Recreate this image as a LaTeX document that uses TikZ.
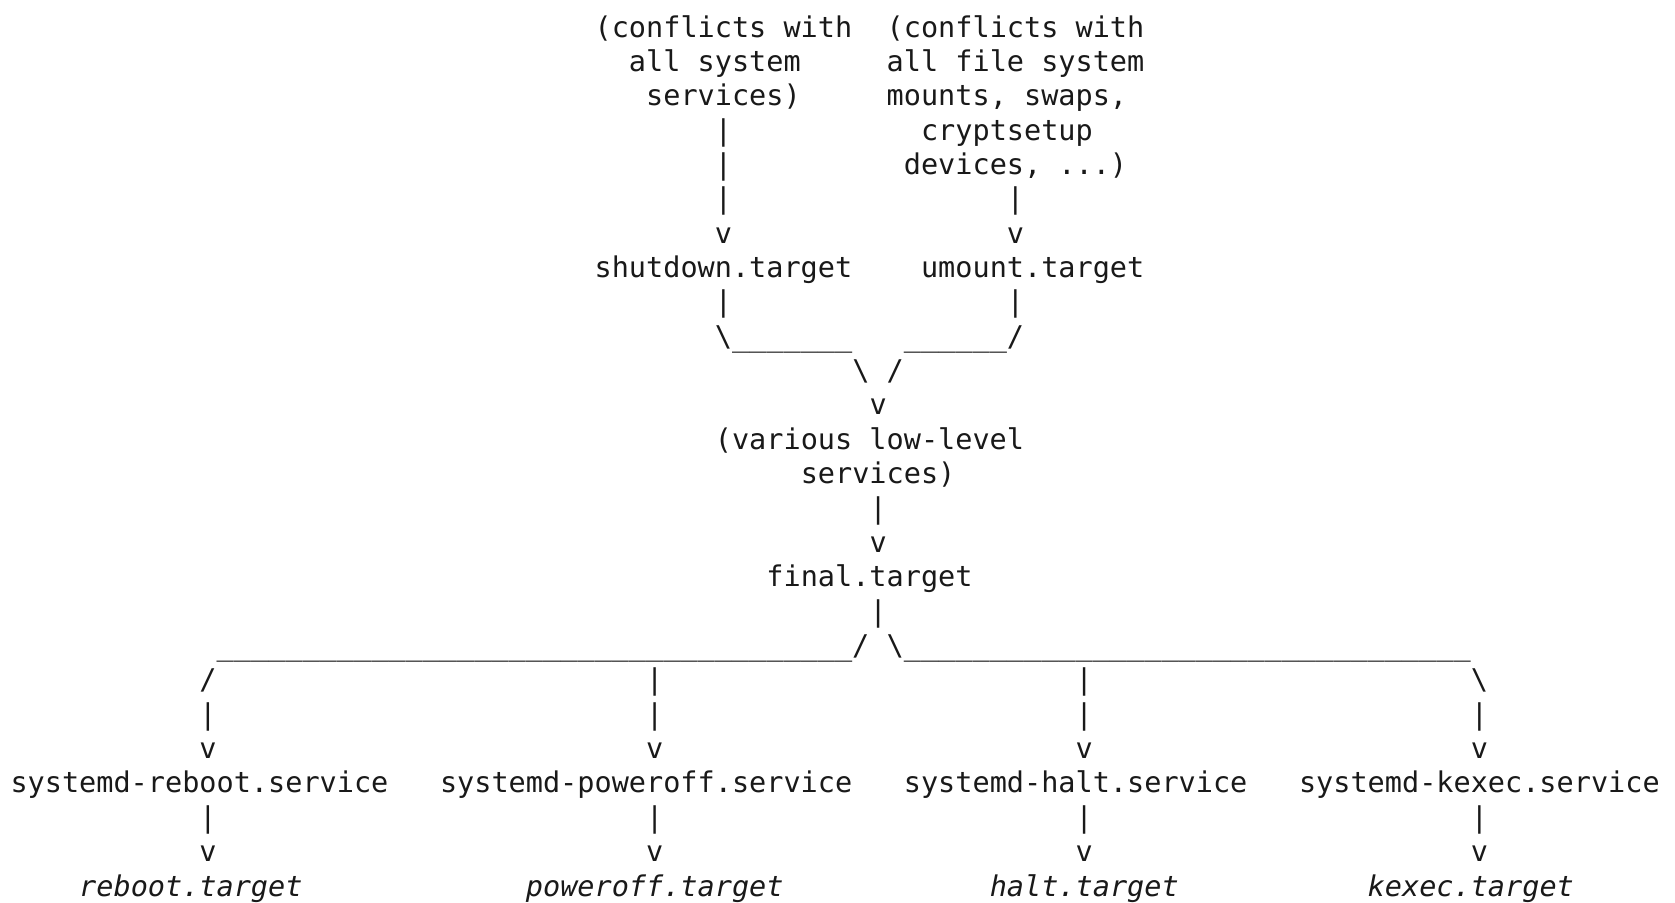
\documentclass[tikz,border=0pt]{standalone}
\usepackage{fontspec}
\newfontfamily\asciifont{DejaVu Sans Mono}
% grid of a fixed-width character cell: column width and line pitch (px)
\newcommand\colw{17.18}
\newcommand\rowh{34.36}
\tikzset{
  ascii/.style={anchor=base west, inner sep=0pt, outer sep=0pt,
    font=\asciifont\fontsize{21.4pt}{25.8pt}\selectfont, text=black!90},
  unit/.style={ascii, font=\asciifont\itshape\fontsize{21.4pt}{25.8pt}\selectfont}
}
% \asc[style]{name}{column}{row}{text}
\newcommand\asc[5][ascii]{\node[#1] (#2) at ({10.5+#3*\colw},{37+#4*\rowh}) {#5};}
\newcommand\us[1]{\foreach \k in {1,...,#1}{\_}}
\begin{document}
\begin{tikzpicture}[x=0.75pt,y=-0.75pt]
\useasboundingbox (0,0) rectangle (1675,903);
\fill[white] (0,0) rectangle (1675,903);

% conflict notes above the two shutdown targets
\asc{cfsysA}{34}{0}{(conflicts with}
\asc{cfsysB}{36}{1}{all system}
\asc{cfsysC}{37}{2}{services)}
\asc{cffsA}{51}{0}{(conflicts with}
\asc{cffsB}{51}{1}{all file system}
\asc{cffsC}{51}{2}{mounts, swaps,}
\asc{cffsD}{53}{3}{cryptsetup}
\asc{cffsE}{52}{4}{devices, ...)}

% links down to shutdown.target / umount.target
\asc{pA1}{41}{3}{|}
\asc{pA2}{41}{4}{|}
\asc{pA3}{41}{5}{|}
\asc{vA}{41}{6}{v}
\asc{pB1}{58}{5}{|}
\asc{vB}{58}{6}{v}

\asc{shutdown}{34}{7}{shutdown.target}
\asc{umount}{53}{7}{umount.target}

% merge into the low-level services
\asc{pA4}{41}{8}{|}
\asc{pB2}{58}{8}{|}
\asc{mergeL}{41}{9}{\textbackslash\us{7}}
\asc{mergeR}{52}{9}{\us{6}/}
\asc{joinL}{49}{10}{\textbackslash}
\asc{joinR}{51}{10}{/}
\asc{vC}{50}{11}{v}

\asc{lowlevA}{41}{12}{(various low-level}
\asc{lowlevB}{46}{13}{services)}
\asc{pC1}{50}{14}{|}
\asc{vD}{50}{15}{v}
\asc{final}{44}{16}{final.target}
\asc{pC2}{50}{17}{|}

% fan-out to the four final services
\asc{fanL}{12}{18}{\us{37}/}
\asc{fanR}{51}{18}{\textbackslash\us{33}}

\asc{bR1}{11}{19}{/}
\asc{bP1}{37}{19}{|}
\asc{bH1}{62}{19}{|}
\asc{bK1}{85}{19}{\textbackslash}
\asc{bR2}{11}{20}{|}
\asc{bP2}{37}{20}{|}
\asc{bH2}{62}{20}{|}
\asc{bK2}{85}{20}{|}
\asc{bR3}{11}{21}{v}
\asc{bP3}{37}{21}{v}
\asc{bH3}{62}{21}{v}
\asc{bK3}{85}{21}{v}

\asc{reboot}{0}{22}{systemd-reboot.service}
\asc{poweroff}{25}{22}{systemd-poweroff.service}
\asc{halt}{52}{22}{systemd-halt.service}
\asc{kexec}{75}{22}{systemd-kexec.service}

\asc{cR1}{11}{23}{|}
\asc{cP1}{37}{23}{|}
\asc{cH1}{62}{23}{|}
\asc{cK1}{85}{23}{|}
\asc{cR2}{11}{24}{v}
\asc{cP2}{37}{24}{v}
\asc{cH2}{62}{24}{v}
\asc{cK2}{85}{24}{v}

\asc[unit]{rebootT}{4}{25}{reboot.target}
\asc[unit]{poweroffT}{30}{25}{poweroff.target}
\asc[unit]{haltT}{57}{25}{halt.target}
\asc[unit]{kexecT}{79}{25}{kexec.target}
\end{tikzpicture}
\end{document}
